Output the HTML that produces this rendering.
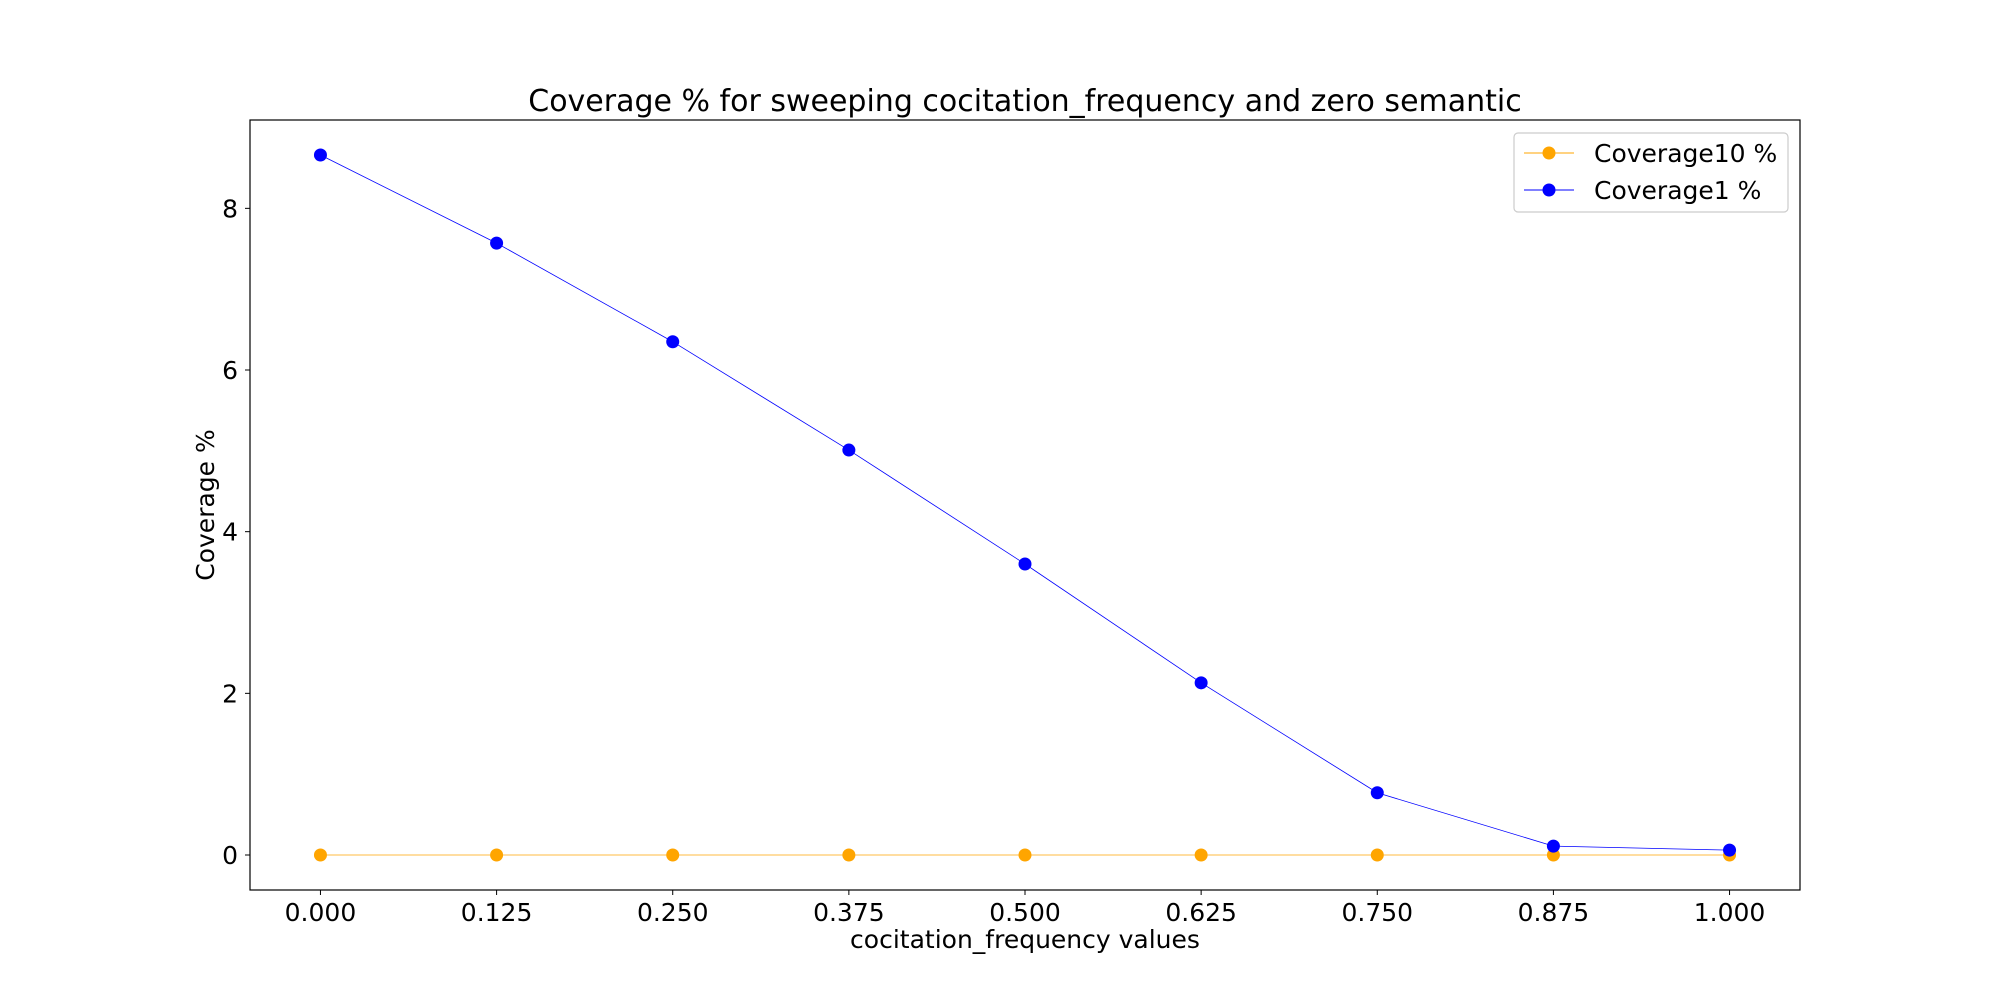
<!DOCTYPE html>
<html><head><meta charset="utf-8"><style>
body{margin:0;background:#fff}
svg{display:block;font-family:"DejaVu Sans","Liberation Sans",sans-serif}
</style></head><body>
<svg id="chart" width="2000" height="1000" xmlns="http://www.w3.org/2000/svg">
<rect width="2000" height="1000" fill="#fff"/>
<text x="1025" y="111" font-size="30" text-anchor="middle">Coverage % for sweeping cocitation_frequency and zero semantic</text>
<g id="plot"></g>
<rect x="250" y="120" width="1550" height="770" fill="none" stroke="#000" stroke-width="1.2"/>
<text x="1025" y="948" font-size="25" text-anchor="middle">cocitation_frequency values</text>
<text transform="translate(214,505) rotate(-90)" font-size="25" text-anchor="middle">Coverage %</text>
<g>
<rect x="1514" y="133" width="274" height="79" rx="4" fill="#fff" stroke="#ccc" stroke-width="1.2"/>
<line x1="1524" y1="153" x2="1574" y2="153" stroke="orange" stroke-width="1"/>
<circle cx="1549" cy="153" r="6.5" fill="orange"/>
<text x="1594" y="162" font-size="25">Coverage10 %</text>
<line x1="1524" y1="190" x2="1574" y2="190" stroke="blue" stroke-width="1"/>
<circle cx="1549" cy="190" r="6.5" fill="blue"/>
<text x="1594" y="199" font-size="25">Coverage1 %</text>
</g>
</svg>
<script>
const xValues=[0,0.125,0.25,0.375,0.5,0.625,0.75,0.875,1.0];
const coverage10=[0,0,0,0,0,0,0,0,0];
const coverage1=[8.66,7.57,6.35,5.01,3.60,2.13,0.77,0.11,0.06];
const xTicks=["0.000","0.125","0.250","0.375","0.500","0.625","0.750","0.875","1.000"];
const yTicks=[0,2,4,6,8];
const L=250,R=1800,T=120,B=890;
const xmin=-0.05,xmax=1.05;
const ymaxData=Math.max(...coverage1,...coverage10),yminData=Math.min(...coverage1,...coverage10);
const pad=(ymaxData-yminData)*0.05,ymin=yminData-pad,ymax=ymaxData+pad;
const sx=v=>L+(v-xmin)/(xmax-xmin)*(R-L);
const sy=v=>B-(v-ymin)/(ymax-ymin)*(B-T);
const NS="http://www.w3.org/2000/svg",g=document.getElementById('plot');
function mk(t,a){const e=document.createElementNS(NS,t);for(const k in a)e.setAttribute(k,a[k]);g.appendChild(e);return e;}
xTicks.forEach((lab,i)=>{const x=sx(xValues[i]);
 const l=mk('line',{x1:x,y1:B,x2:x,y2:B+5,stroke:'#000','stroke-width':1});
 
 
 const t=mk('text',{x:x,y:B+31,'font-size':25,'text-anchor':'middle'});t.textContent=lab;
 
 });
yTicks.forEach(v=>{const y=sy(v);
 const l=mk('line',{x1:L-5,y1:y,x2:L,y2:y,stroke:'#000','stroke-width':1});
 
 
 const t=mk('text',{x:L-12,y:y+9,'font-size':25,'text-anchor':'end'});t.textContent=v;
 
 });
function series(vals,color,name){
 const p=mk('polyline',{points:vals.map((v,i)=>sx(xValues[i])+','+sy(v)).join(' '),fill:'none',stroke:color,'stroke-width':0.8});
 
 
 vals.forEach((v,i)=>{const c=mk('circle',{cx:sx(xValues[i]),cy:sy(v),r:6.5,fill:color});
  
  });
}
series(coverage10,'orange','coverage10');
series(coverage1,'blue','coverage1');
</script>
</body></html>
